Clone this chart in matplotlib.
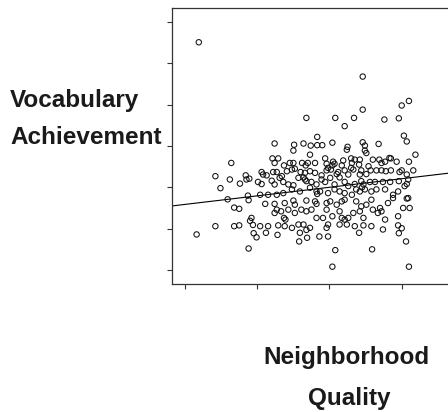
import matplotlib
matplotlib.use("Agg")
import matplotlib.pyplot as plt
import numpy as np

# Neighborhood quality (x) and vocabulary achievement (y), arbitrary scale (no tick labels)
neighborhood = [
    # high achievers
    1.19, 3.46, 3.46, 4.00, 4.10, 2.68, 3.08, 3.34, 3.21, 3.76, 3.96, 2.83, 4.03, 4.07,
    2.24, 2.51, 2.64, 2.74, 2.83, 2.90, 3.04, 3.25, 3.46, 3.68, 3.49,
    # low neighborhood quality
    1.16, 1.42, 1.42, 1.49, 1.59, 1.62, 1.64, 1.68, 1.68, 1.75, 1.75, 1.76, 1.84, 1.87, 1.88,
    1.94,
    # low achievers
    1.88, 1.95, 1.99, 2.12, 2.28, 2.58, 2.59, 2.68, 2.69, 2.86, 2.98, 3.04, 3.08, 3.41,
    3.59, 3.96, 4.06, 4.10, 4.00,
    # main cloud
    2.50, 2.73, 3.24, 3.49, 3.51, 4.19,
    2.21, 2.29, 2.24, 2.37, 2.45, 2.50, 2.62, 2.70, 2.80, 2.67, 2.94, 2.96, 3.05, 3.07,
    3.19, 3.17, 3.30, 3.31, 3.35, 3.42, 3.41, 3.54, 3.60, 3.69, 3.72, 3.77, 3.83, 3.85,
    3.93, 4.10, 3.30,
    2.06, 2.08, 2.13, 2.22, 2.27, 2.34, 2.41, 2.48, 2.52, 2.60, 2.66, 2.73, 2.80, 2.89,
    2.96, 2.98, 3.02, 3.04, 3.10, 3.12, 3.21, 3.26, 3.33, 3.42, 3.44, 3.51, 3.57, 3.65,
    3.72, 3.78, 3.85, 3.97, 4.00, 4.07, 4.16,
    1.85, 1.89, 2.01, 2.06, 2.20, 2.24, 2.31, 2.36, 2.43, 2.50, 2.57, 2.64, 2.66, 2.68,
    2.75, 2.82, 2.89, 2.94, 3.01, 3.07, 3.14, 3.21, 3.26, 3.35, 3.44, 3.47, 3.56, 3.63,
    3.74, 3.84, 3.96, 4.09, 4.07,
    2.04, 2.15, 2.27, 2.36, 2.48, 2.59, 2.73, 2.82, 2.83, 2.87, 2.98, 3.07, 3.14, 3.21,
    3.31, 3.37, 3.42, 3.45, 3.49, 3.58, 3.65, 3.77, 3.88, 3.95, 4.04, 4.09, 4.07,
    2.11, 2.24, 2.38, 2.50, 2.52, 2.68, 2.80, 2.82, 2.96, 3.01, 3.10, 3.17, 3.21, 3.37,
    3.44, 3.51, 3.58, 3.70, 3.81, 3.88, 4.02, 4.11,
    2.24, 2.27, 2.33, 2.37, 2.39, 2.43, 2.52, 2.61, 2.68, 2.75, 2.82, 2.91, 2.96, 3.04,
    3.14, 3.17, 3.21, 3.26, 3.33, 3.42, 3.47, 3.60, 3.67, 3.72, 3.77, 3.95,
    1.92, 1.90, 2.04, 2.15, 2.29, 2.38, 2.48, 2.57, 2.64, 2.73, 2.96, 2.98, 3.14, 3.24,
    3.35, 3.47, 3.58, 3.74, 3.95,
]
vocabulary = [
    6.51, 5.68, 4.88, 4.98, 5.09, 4.68, 4.68, 4.68, 4.48, 4.64, 4.67, 4.22, 4.25, 4.11,
    4.06, 4.03, 4.06, 4.01, 4.02, 4.02, 4.08, 3.98, 4.09, 4.05, 4.01,
    1.86, 3.27, 2.06, 2.98, 2.71, 3.19, 3.59, 2.51, 2.06, 2.48, 2.08, 3.09, 3.29, 2.80, 2.69,
    2.09,
    1.52, 1.89, 1.79, 1.90, 1.85, 1.69, 1.90, 1.97, 1.78, 1.81, 1.81, 1.08, 1.48, 1.90,
    1.50, 1.89, 1.69, 1.08, 2.01,
    3.89, 3.79, 3.91, 3.89, 3.83, 3.79,
    3.70, 3.70, 3.59, 3.53, 3.59, 3.59, 3.59, 3.59, 3.59, 3.53, 3.70, 3.57, 3.62, 3.57,
    3.65, 3.53, 3.70, 3.59, 3.67, 3.67, 3.55, 3.51, 3.67, 3.67, 3.59, 3.62, 3.71, 3.70,
    3.62, 3.62, 3.47,
    3.37, 3.31, 3.29, 3.37, 3.37, 3.27, 3.39, 3.43, 3.45, 3.37, 3.35, 3.39, 3.35, 3.29,
    3.41, 3.47, 3.43, 3.53, 3.32, 3.37, 3.41, 3.31, 3.43, 3.31, 3.41, 3.32, 3.41, 3.41,
    3.41, 3.39, 3.41, 3.37, 3.41, 3.31, 3.41,
    3.19, 3.21, 3.13, 3.08, 3.16, 3.07, 3.23, 3.13, 3.07, 3.05, 3.23, 3.24, 3.19, 3.15,
    3.13, 3.07, 3.19, 3.13, 3.23, 3.07, 3.24, 3.13, 3.03, 3.08, 3.15, 3.07, 3.13, 3.13,
    3.13, 3.13, 3.15, 3.19, 3.08,
    2.82, 2.82, 2.82, 2.86, 2.95, 2.90, 2.99, 2.90, 2.84, 2.90, 2.86, 2.95, 2.90, 2.86,
    2.82, 2.95, 2.90, 3.00, 2.95, 2.90, 2.95, 2.95, 2.82, 2.90, 3.03, 2.74, 2.73,
    2.60, 2.60, 2.62, 2.68, 2.58, 2.68, 2.66, 2.60, 2.62, 2.66, 2.58, 2.66, 2.70, 2.66,
    2.54, 2.58, 2.70, 2.50, 2.62, 2.74, 2.50, 2.50,
    2.38, 2.46, 2.42, 2.26, 2.22, 2.46, 2.38, 2.46, 2.42, 2.46, 2.26, 2.26, 2.46, 2.30,
    2.42, 2.26, 2.22, 2.26, 2.38, 2.42, 2.26, 2.46, 2.38, 2.42, 2.22, 2.30,
    2.26, 2.19, 2.06, 2.06, 2.08, 2.06, 2.02, 2.10, 2.10, 2.02, 2.02, 2.10, 2.10, 2.10,
    2.06, 2.08, 2.06, 1.98, 2.08,
]

# fitted regression line
fit_intercept = 2.38
fit_slope = 0.207

x_ticks = [1, 2, 3, 4]
y_ticks = [1, 2, 3, 4, 5, 6, 7]

W, H = 448, 412
fig = plt.figure(figsize=(W / 100, H / 100), dpi=100)
ax = fig.add_axes([171.7 / W, 1 - 284 / H, 295 / W, 276 / H])

ax.scatter(neighborhood, vocabulary, s=15, facecolors='none', edgecolors='#111111',
           linewidths=0.75, zorder=3)

xlim = (0.815, 4.90)
line_x = np.array(xlim)
ax.plot(line_x, fit_intercept + fit_slope * line_x, color='black', linewidth=0.8)

ax.set_xlim(*xlim)
ax.set_ylim(0.661, 7.339)
ax.set_xticks(x_ticks)
ax.set_yticks(y_ticks)
ax.set_xticklabels([])
ax.set_yticklabels([])
ax.tick_params(direction='out', length=3.5, width=0.8, color='#333333')
for side in ['left', 'bottom', 'top', 'right']:
    ax.spines[side].set_color('#333333')
    ax.spines[side].set_linewidth(0.9)

font = dict(family=['Liberation Sans', 'DejaVu Sans'], fontsize=17.5, fontweight='bold',
            color='#1a1a1a')
fig.text(10 / W, 1 - 106.5 / H, 'Vocabulary', ha='left', va='baseline', **font)
fig.text(10 / W, 1 - 144.5 / H, 'Achievement', ha='left', va='baseline', **font)
fig.text(346 / W, 1 - 364 / H, 'Neighborhood', ha='center', va='baseline', **font)
fig.text(349 / W, 1 - 405 / H, 'Quality', ha='center', va='baseline', **font)

fig.savefig('out.png', dpi=100)
